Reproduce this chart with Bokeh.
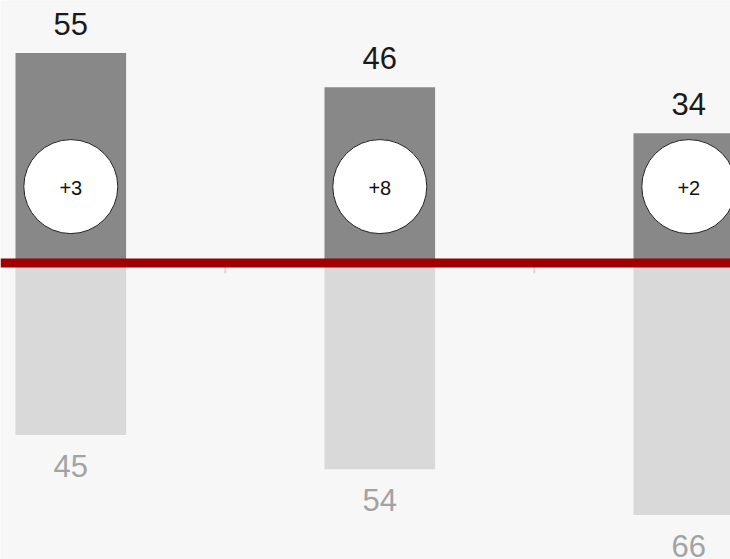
from bokeh.plotting import figure
from bokeh.models import Range1d, Span, ColumnDataSource
from bokeh.core.properties import value
from bokeh.embed import file_html
from bokeh.resources import INLINE

# ---- data ----
categories = ["Group 1", "Group 2", "Group 3"]
top_values = [55, 46, 34]
bottom_values = [45, 54, 66]
change_labels = ["+3", "+8", "+2"]

# ---- layout constants ----
BADGE_Y = 20          # data y of the change badges
BAR_WIDTH = 0.358
FONT = value("Liberation Sans")

xs = list(range(len(categories)))
boundaries = [i + 0.5 for i in xs[:-1]]

src = ColumnDataSource(dict(
    x=xs,
    cat=categories,
    top=top_values,
    bottom=[-v for v in bottom_values],
    top_label=[str(v) for v in top_values],
    bottom_label=[str(v) for v in bottom_values],
    change=change_labels,
    badge_y=[BADGE_Y] * len(xs),
))

p = figure(width=730, height=559,
           x_range=Range1d(-0.2275, 2.135),
           y_range=Range1d(-77.62, 68.72),
           x_axis_type=None, y_axis_type=None,
           toolbar_location=None, output_backend="svg",
           min_border=0)
p.grid.visible = False
p.outline_line_color = None
p.background_fill_color = "#f7f7f7"
p.border_fill_color = "#f7f7f7"

# bars
p.vbar(x="x", top="top", bottom=0, width=BAR_WIDTH, source=src,
       fill_color="#888888", line_color=None)
p.vbar(x="x", top=0, bottom="bottom", width=BAR_WIDTH, source=src,
       fill_color="#d9d9d9", line_color=None)

# category boundary ticks
p.segment(x0=boundaries, y0=[0] * len(boundaries), x1=boundaries,
          y1=[-2.67] * len(boundaries), line_color="#dadada", line_width=2)

# zero line
p.add_layout(Span(location=0, dimension="width", line_color="#a00000",
                  line_width=9))

# badges
p.scatter(x="x", y="badge_y", source=src, marker="circle", size=94,
          fill_color="white", line_color="#222222", line_width=1)
p.text(x="x", y="badge_y", text="change", source=src,
       text_align="center", text_baseline="middle", y_offset=1,
       text_font=FONT, text_font_size="20px", text_color="#111111")

# value labels
p.text(x="x", y="top", text="top_label", source=src,
       text_align="center", text_baseline="middle", y_offset=-29,
       text_font=FONT, text_font_size="31px", text_color="#1a1a1a")
p.text(x="x", y="bottom", text="bottom_label", source=src,
       text_align="center", text_baseline="middle", y_offset=31,
       text_font=FONT, text_font_size="31px", text_color="#a3a3a3")

open("out.html", "w").write(file_html(p, INLINE))
